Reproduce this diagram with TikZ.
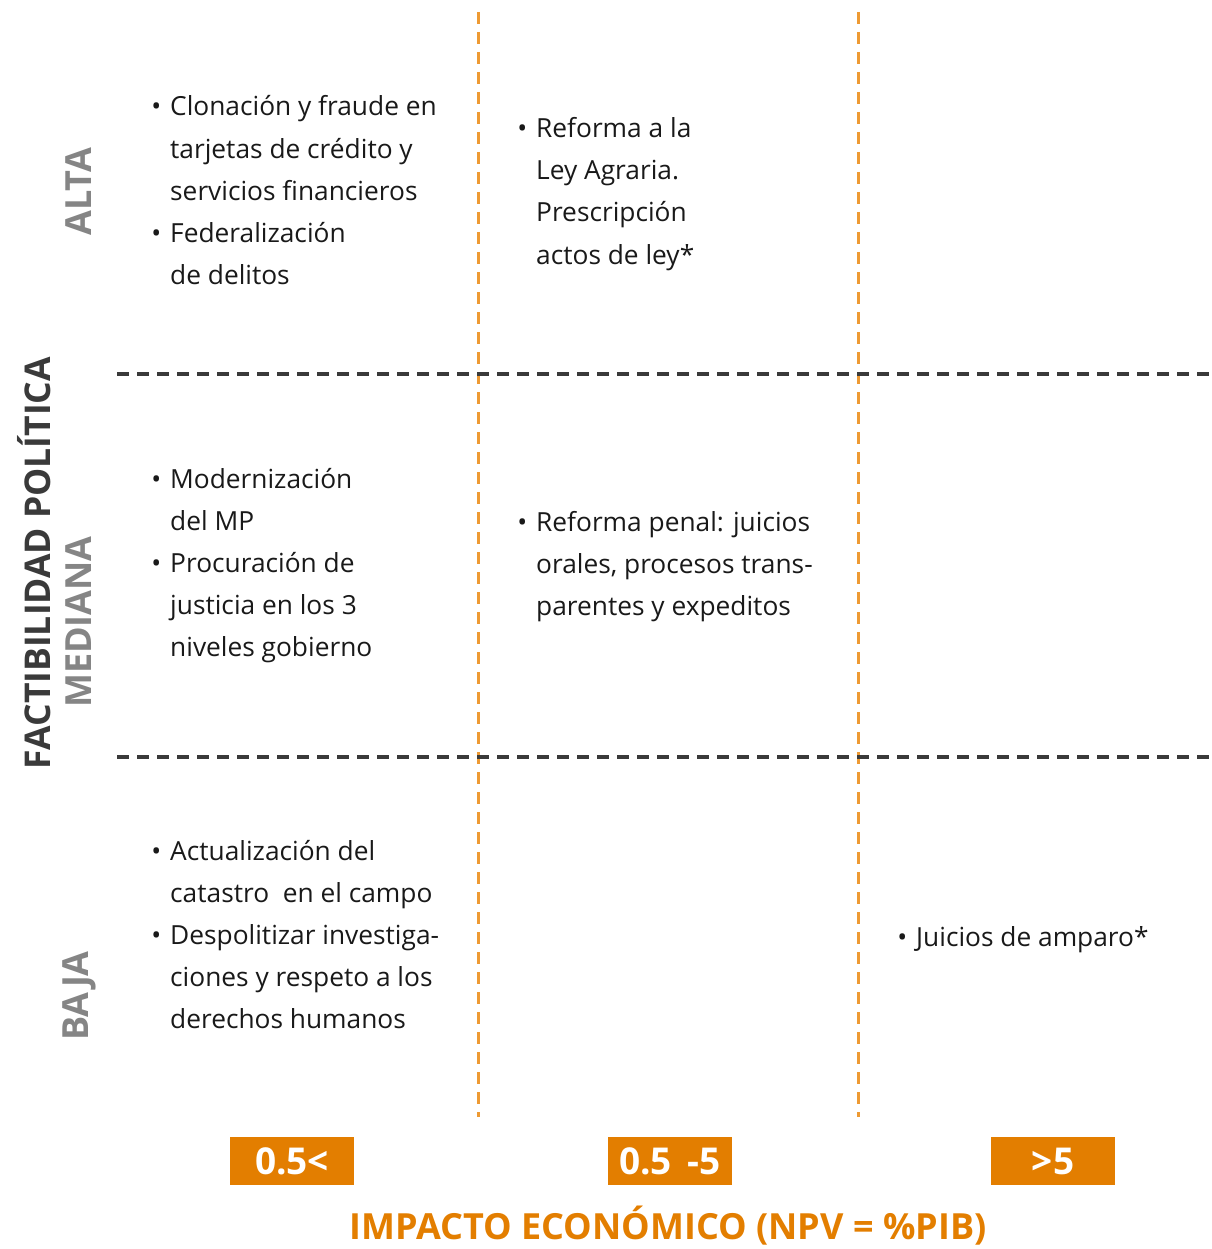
\documentclass[tikz,border=0pt]{standalone}
\usepackage{fontspec}
\setmainfont{Open Sans}
\definecolor{naranja}{HTML}{E37E00}
\definecolor{naranjaclaro}{HTML}{EE9A33}
\definecolor{grisoscuro}{HTML}{3A3A3A}
\definecolor{grismedio}{HTML}{858585}
\newcommand{\vineta}{\makebox[0pt][r]{\textbullet\hspace{9pt}}}

\begin{document}
\begin{tikzpicture}[x=1pt, y=-1pt,
    celda/.style={anchor=base west, inner sep=0pt, text=black!90, font=\fontsize{26.3}{42.2}\selectfont},
    nivel/.style={rotate=90, inner sep=0pt, text=grismedio, font=\bfseries\fontsize{36}{36}\selectfont},
    rango/.style={fill=naranja, minimum width=124pt, minimum height=48pt, inner sep=0pt, text=white, font=\bfseries\fontsize{37}{37}\selectfont},
    guiav/.style={naranjaclaro, line width=3pt, dash pattern=on 12pt off 8pt},
    guiah/.style={grisoscuro, line width=3.5pt, dash pattern=on 12pt off 8pt}]
    %%%%% START %%%%%
    \useasboundingbox (0,0) rectangle (1211,1249);

    \draw[guiav] (478,12) -- (478,1117);
    \draw[guiav] (858,12) -- (858,1117);
    \draw[guiah] (117,374) -- (1211,374);
    \draw[guiah] (117,757) -- (1211,757);

    \node[rotate=90, inner sep=0pt, text=grisoscuro, font=\bfseries\fontsize{35.5}{35.5}\selectfont] (eje-y) at (34,563) {FACTIBILIDAD POLÍTICA};
    \node[nivel] (alta) at (79,192) {ALTA};
    \node[nivel] (mediana) at (79,622) {MEDIANA};
    \node[nivel] (baja) at (79,996) {BAJA};

    \node[celda] (c11) at (170,116) {\parbox[t]{320pt}{\raggedright
        \vineta Clonación y fraude en\\ tarjetas de crédito y\\ servicios financieros\\
        \vineta Federalización\\ de delitos}};
    \node[celda] (c12) at (536,137.5) {\parbox[t]{320pt}{\raggedright
        \vineta Reforma a la\\ Ley Agraria.\\ Prescripción\\ actos de ley*}};
    \node[celda] (c21) at (170,488) {\parbox[t]{320pt}{\raggedright
        \vineta Modernización\\ del MP\\
        \vineta Procuración de\\ justicia en los 3\\ niveles gobierno}};
    \node[celda] (c22) at (536,531) {\parbox[t]{320pt}{\raggedright
        \vineta Reforma penal: juicios\\ orales, procesos trans-\\ parentes y expeditos}};
    \node[celda] (c31) at (170,860) {\parbox[t]{320pt}{\raggedright
        \vineta Actualización del\\ catastro \ en el campo\\
        \vineta Despolitizar investiga-\\ ciones y respeto a los\\ derechos humanos}};
    \node[celda] (c33) at (916,946) {\parbox[t]{300pt}{\raggedright
        \vineta Juicios de amparo*}};

    \node[rango] (r1) at (292,1161) {0.5<};
    \node[rango] (r2) at (670,1161) {0.5 \,-5};
    \node[rango] (r3) at (1053,1161) {>5};

    \node[inner sep=0pt, text=naranja, font=\bfseries\fontsize{36}{36}\selectfont] (eje-x) at (668,1226) {IMPACTO ECONÓMICO (NPV = \%PIB)};
    %%%%% END %%%%%
\end{tikzpicture}
\end{document}
